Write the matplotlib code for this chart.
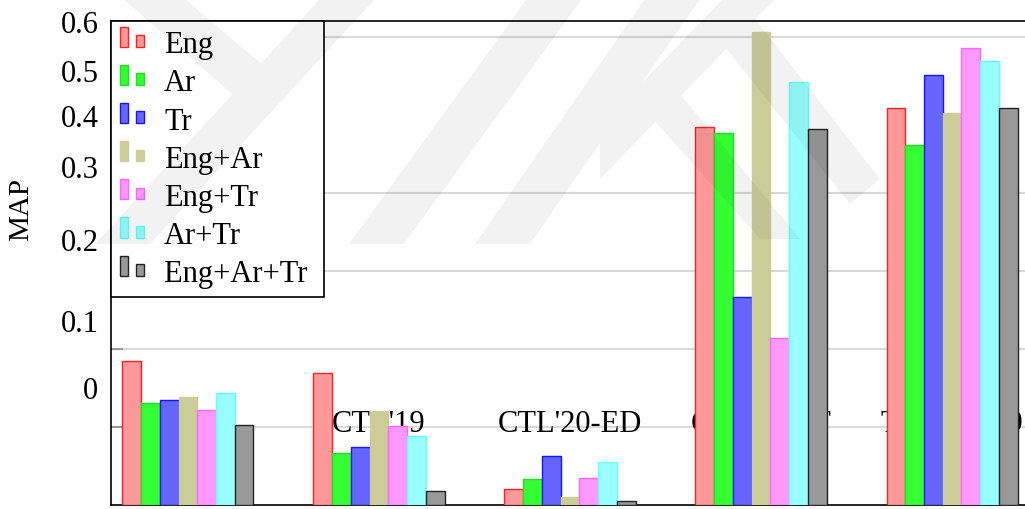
import matplotlib
matplotlib.use("Agg")
import matplotlib.pyplot as plt
import numpy as np
from matplotlib.patches import Rectangle, PathPatch
from matplotlib.path import Path
from matplotlib.legend_handler import HandlerBase

plt.rcParams.update({
    "font.family": "Liberation Serif",
    "font.size": 22,
    "axes.linewidth": 1.2,
})

# ---------------------------------------------------------------------------
# data
# ---------------------------------------------------------------------------
datasets = ["CTL'18", "CTL'19", "CTL'20-ED", "CTL'20-AT", "TR-CTL'19"]
series = ["Eng", "Ar", "Tr", "Eng+Ar", "Eng+Tr", "Ar+Tr", "Eng+Ar+Tr "]

eng = [0.185, 0.169, 0.021, 0.484, 0.509]
ar = [0.131, 0.067, 0.033, 0.477, 0.461]
tr = [0.135, 0.074, 0.063, 0.267, 0.551]
eng_ar = [0.138, 0.121, 0.010, 0.606, 0.502]
eng_tr = [0.122, 0.101, 0.035, 0.214, 0.586]
ar_tr = [0.144, 0.088, 0.055, 0.542, 0.569]
eng_ar_tr = [0.103, 0.018, 0.005, 0.482, 0.509]
values = [eng, ar, tr, eng_ar, eng_tr, ar_tr, eng_ar_tr]

fills = ["#ff9999", "#33ff33", "#6666ff", "#cccc99", "#ff99ff", "#99ffff", "#999999"]
edges = ["#ff2020", "#22dd22", "#1515ff", "#cccc99", "#ff66ff", "#66ffff", "#222222"]

# the (broken) tick labels sit at odd heights in the original
ytick_pos = [0.1513, 0.2372, 0.341, 0.4346, 0.50, 0.5577, 0.6205]
ytick_labels = ["0", "0.1", "0.2", "0.3", "0.4", "0.5", "0.6"]
grid_pos = [0.1, 0.2, 0.3, 0.4, 0.5, 0.6]


class TwoBarHandler(HandlerBase):
    """pgfplots style ybar legend image: a tall and a short bar."""
    def legend_artist(self, legend, orig_handle, fontsize, handlebox):
        w, h = handlebox.width, handlebox.height
        x0, y0 = -handlebox.xdescent, -handlebox.ydescent
        fc, ec = orig_handle
        r1 = Rectangle((x0, y0 + 0.25 * h), 0.3 * w, 0.95 * h,
                       facecolor=fc, edgecolor=ec, lw=1.0)
        r2 = Rectangle((x0 + 0.63 * w, y0 + 0.25 * h), 0.33 * w, 0.55 * h,
                       facecolor=fc, edgecolor=ec, lw=1.0)
        handlebox.add_artist(r1)
        handlebox.add_artist(r2)
        return r1


W, H = 1025, 510
fig = plt.figure(figsize=(W / 100, H / 100), dpi=100)
ax = fig.add_axes([111 / W, 4 / H, 918 / W, 484 / H])

x = np.arange(len(datasets))
bw = 0.098
for i, (vals, fc, ec) in enumerate(zip(values, fills, edges)):
    ax.bar(x + (i - 3) * bw, vals, bw, color=fc, edgecolor=ec,
           linewidth=1.0, zorder=3)

# group names end up inside the plot, hidden behind the bars
for xi, name in zip(x, datasets):
    ax.text(xi, 0.104, name, ha="center", va="center", fontsize=22, zorder=2)

ax.set_xlim(-0.403, 4.403)
ax.set_ylim(0, 0.6205)
ax.set_xticks([])

ax.set_yticks(ytick_pos)
ax.set_yticklabels(ytick_labels)
ax.tick_params(axis="y", which="major", length=0, pad=9, labelsize=22)
ax.set_yticks(grid_pos, minor=True)
ax.tick_params(axis="y", which="minor", direction="in", length=8.5,
               width=1.5, color="#999999")
ax.yaxis.grid(True, which="minor", color="#d9d9d9", linewidth=1.5, zorder=0)
ax.set_axisbelow(True)
ax.spines["right"].set_visible(False)

fig.text(21 / W, 1 - 210 / H, "MAP", rotation=90, ha="center", va="center",
         fontsize=21)

handles = list(zip(fills, edges))
leg = ax.legend(handles, series, loc="upper left", bbox_to_anchor=(0, 1),
                borderaxespad=0, handler_map={tuple: TwoBarHandler()},
                fontsize=22, frameon=True, fancybox=False, framealpha=1,
                edgecolor="black", handlelength=0.82, handleheight=0.7,
                handletextpad=0.62, labelspacing=0.3, borderpad=0.3)
leg.get_frame().set_linewidth(1.2)
leg.set_zorder(5)

# faint watermark of the thesis page (pixel outlines), one compound path
marks = [
    [(95, 245), (150, 245), (375, 0), (320, 0)],
    [(349, 245), (404, 245), (582, 0), (527, 0)],
    [(475, 245), (530, 245), (700, 0), (645, 0)],
    [(123, 0), (185, 0), (285, 85), (255, 115)],
    [(600, 127), (600, 180), (775, 0), (723, 0)],
    [(725, 48), (755, 20), (880, 180), (850, 205)],
    [(653, 120), (680, 95), (800, 240), (760, 240)],
]
pieces = []
for pts in marks:
    p = np.array([(px / W, 1 - py / H) for px, py in pts])
    # same winding for every piece so overlaps stay filled
    area = np.sum(p[:, 0] * np.roll(p[:, 1], -1) - np.roll(p[:, 0], -1) * p[:, 1])
    if area < 0:
        p = p[::-1]
    pieces.append(Path(np.vstack([p, p[:1]]),
                       [Path.MOVETO] + [Path.LINETO] * 3 + [Path.CLOSEPOLY]))
wm = Path.make_compound_path(*pieces)
fig.add_artist(PathPatch(wm, transform=fig.transFigure, facecolor="black",
                         alpha=0.05, edgecolor="none", zorder=10))

fig.savefig("out.png", dpi=100)
